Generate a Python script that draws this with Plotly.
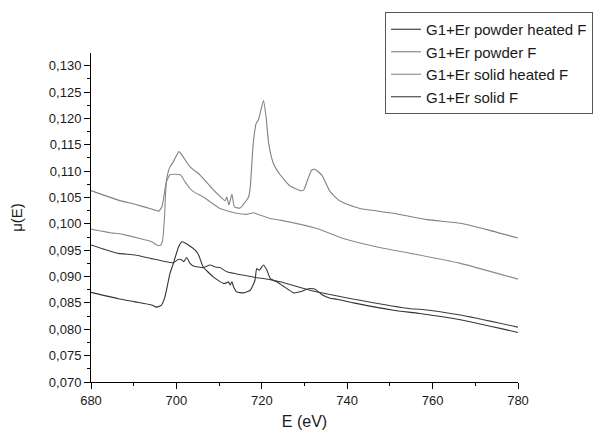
import plotly.graph_objects as go

# ---- data ----
names = ["G1+Er powder heated F", "G1+Er powder F", "G1+Er solid heated F", "G1+Er solid F"]

E_powder_heated = [680, 686.4, 690.3, 694.2, 695.4, 696.5, 697.3, 698.5, 699.3, 700.5, 701.3, 702.8,
                   704.4, 705.2, 706.3, 708.7, 711.0, 711.7, 712.2, 712.6, 713.0, 713.4, 714.1, 715.7,
                   717.3, 718.4, 718.8, 719.4, 720.4, 721.2, 722.0, 723.5, 725.0, 727.5, 729.0, 731.0,
                   732.5, 734.0, 736.0, 737.6, 741.5, 750.8, 757.0, 766.5, 780]
mu_powder_heated = [0.0870, 0.0858, 0.0852, 0.0846, 0.0842, 0.0846, 0.0861, 0.0906, 0.0925, 0.0956, 0.0966, 0.0960,
                    0.0950, 0.0941, 0.0918, 0.0899, 0.0887, 0.0888, 0.0890, 0.0884, 0.0890, 0.0880, 0.0871, 0.0869,
                    0.0874, 0.0893, 0.0915, 0.0912, 0.0922, 0.0912, 0.0896, 0.0890, 0.0882, 0.0869, 0.0871, 0.0877,
                    0.0876, 0.0866, 0.0859, 0.0857, 0.0850, 0.0836, 0.0830, 0.0818, 0.0794]

E_powder = [680, 686.4, 690.3, 694.2, 695.8, 696.6, 697.3, 698.0, 698.5, 699.3, 700.6, 701.5, 703.2,
            705.5, 708.7, 711.4, 711.8, 712.3, 713.0, 713.6, 714.9, 716.9, 717.3, 718.0, 718.7, 719.2,
            719.8, 720.4, 721.0, 721.6, 722.7, 724.3, 726.6, 729.0, 729.8, 730.8, 731.7, 732.5, 734.1,
            736.0, 738.0, 740.3, 743.0, 750.8, 758.7, 766.5, 772.7, 780]
mu_powder = [0.1063, 0.1045, 0.1037, 0.1028, 0.1024, 0.1032, 0.1064, 0.1096, 0.1108, 0.1118, 0.1137, 0.1128, 0.1108,
             0.1093, 0.1064, 0.1044, 0.1051, 0.1036, 0.1056, 0.1032, 0.1030, 0.1051, 0.1070, 0.1153, 0.1191, 0.1197,
             0.1216, 0.1234, 0.1203, 0.1153, 0.1115, 0.1093, 0.1072, 0.1063, 0.1064, 0.1085, 0.1102, 0.1103, 0.1092,
             0.1061, 0.1045, 0.1036, 0.1029, 0.1020, 0.1008, 0.1001, 0.0989, 0.0973]

E_solid_heated = [680, 682, 684.5, 685.6, 688, 691, 694.2, 695.4, 696.2, 696.7, 697.2, 697.7, 698.5,
                  699.5, 700.9, 702.0, 703.2, 704.0, 706.3, 710.2, 714.1, 716.5, 718.0, 719.0, 722.0,
                  724.3, 732.9, 739.1, 747.0, 754.8, 766.5, 780]
mu_solid_heated = [0.0990, 0.0987, 0.0983, 0.0982, 0.0979, 0.0973, 0.0966, 0.0960, 0.0959, 0.0966, 0.1010, 0.1080, 0.1093,
                   0.1094, 0.1093, 0.1080, 0.1067, 0.1061, 0.1051, 0.1029, 0.1020, 0.1018, 0.1021, 0.1018, 0.1010,
                   0.1007, 0.0991, 0.0972, 0.0956, 0.0944, 0.0925, 0.0895]

E_solid = [680, 683, 686.4, 690.3, 694.2, 697.0, 699.3, 700.3, 701.2, 701.7, 702.4, 703.2, 704.0,
           706.3, 707.9, 709.1, 710.2, 711.8, 714.1, 718.0, 722.0, 724.3, 731.3, 743.0, 754.8, 757.0,
           766.5, 780]
mu_solid = [0.0960, 0.0952, 0.0944, 0.0941, 0.0934, 0.0929, 0.0926, 0.0932, 0.0932, 0.0928, 0.0936, 0.0925, 0.0920,
            0.0917, 0.0922, 0.0918, 0.0917, 0.0909, 0.0905, 0.0899, 0.0894, 0.0890, 0.0874, 0.0855, 0.0839, 0.0838,
            0.0827, 0.0804]

x_ticks = [680, 700, 720, 740, 760, 780]

# ---- styling ----
series = [
    (E_powder_heated, mu_powder_heated, "#333333"),
    (E_powder, mu_powder, "#808080"),
    (E_solid_heated, mu_solid_heated, "#8a8a8a"),
    (E_solid, mu_solid, "#3c3c3c"),
]

FONT = "Liberation Sans, Arial, sans-serif"

fig = go.Figure()
for name, (xs, ys, col) in zip(names, series):
    fig.add_trace(go.Scatter(x=xs, y=ys, mode="lines", name=name,
                             line=dict(color=col, width=1.1, shape="spline", smoothing=0.5)))

axis_common = dict(
    showgrid=False, zeroline=False, showline=True, linecolor="#000000", linewidth=1,
    ticks="outside", ticklen=6, tickwidth=1, tickcolor="#000000",
    tickfont=dict(family=FONT, size=13, color="#1a1a1a"),
)

# the page body adds an 8px offset, so the figure is 8px smaller and margins shifted
fig.update_layout(
    width=595, height=422,
    paper_bgcolor="white", plot_bgcolor="white",
    separators=", ",
    margin=dict(l=83, r=85, t=45, b=48, autoexpand=False),
    font=dict(family=FONT, color="#1a1a1a"),
    xaxis=dict(
        range=[680, 780], tickvals=x_ticks,
        minor=dict(dtick=10, tick0=680, ticks="outside", ticklen=3, tickcolor="#000000", showgrid=False),
        title=dict(text="E (eV)", font=dict(family=FONT, size=16), standoff=9),
        **axis_common,
    ),
    yaxis=dict(
        range=[0.070, 0.1324], tick0=0.070, dtick=0.005, tickformat=".3f",
        minor=dict(dtick=0.0025, tick0=0.070, ticks="outside", ticklen=3, tickcolor="#000000", showgrid=False),
        title=dict(text="μ(E)", font=dict(family=FONT, size=15), standoff=24),
        **axis_common,
    ),
    legend=dict(
        x=(385 - 91) / 427, y=(382 - 12) / 329, xanchor="left", yanchor="top",
        bgcolor="white", bordercolor="#555555", borderwidth=1,
        font=dict(family=FONT, size=15, color="#1a1a1a"),
        tracegroupgap=0, itemwidth=30,
    ),
    showlegend=True,
)

fig.write_html("out.html")
